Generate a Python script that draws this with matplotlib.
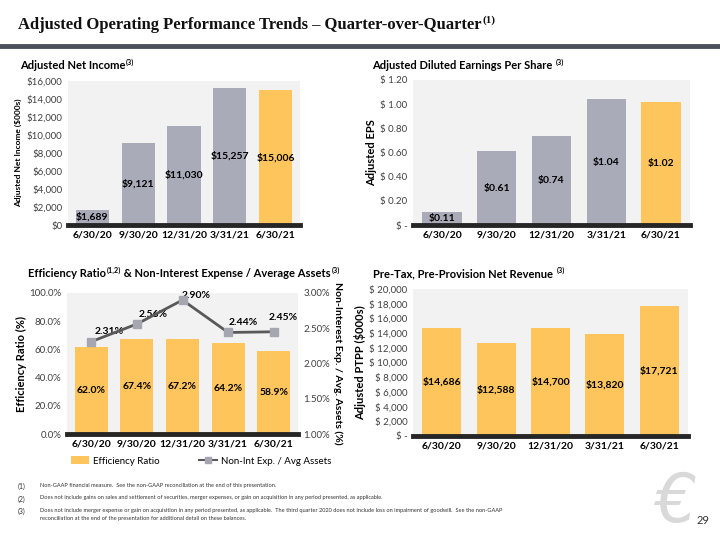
import matplotlib
matplotlib.use("Agg")
import matplotlib.pyplot as plt
from matplotlib.patches import Patch
from matplotlib.lines import Line2D
from matplotlib.text import Annotation
import numpy as np

# data
quarters = ["6/30/20", "9/30/20", "12/31/20", "3/31/21", "6/30/21"]
net_income = [1689, 9121, 11030, 15257, 15006]
eps = [0.11, 0.61, 0.74, 1.04, 1.02]
eff_ratio = [62.0, 67.4, 67.2, 64.2, 58.9]
nonint_exp = [2.31, 2.56, 2.90, 2.44, 2.45]
ptpp = [14686, 12588, 14700, 13820, 17721]

footnotes = [
    ("(1)", "Non-GAAP financial measure.  See the non-GAAP reconciliation at the end of this presentation."),
    ("(2)", "Does not include gains on sales and settlement of securities, merger expenses, or gain on acquisition in any period presented, as applicable."),
    ("(3)", "Does not include merger expense or gain on acquisition in any period presented, as applicable.  The third quarter 2020 does not include loss on impairment of goodwill.  See the non-GAAP\nreconciliation at the end of the presentation for additional detail on these balances."),
]

GRAY = "#a9abb9"
GOLD = "#fdc55b"
BG = "#f2f2f2"
SANS = ["Lato", "DejaVu Sans"]
W, H = 720, 540

plt.rcParams['font.family'] = SANS

fig = plt.figure(figsize=(7.2, 5.4), dpi=100)


def px_axes(x0, y0, x1, y1):
    return fig.add_axes([x0 / W, 1 - y1 / H, (x1 - x0) / W, (y1 - y0) / H])


def rich_title(x, y, parts, size, **kw):
    # parts: list of (text, is_superscript); each piece follows the previous one
    first = fig.text(x / W, 1 - y / H, parts[0][0], fontsize=size, va="bottom", **kw)
    prev, prev_sup = first, False
    for s, sup in parts[1:]:
        if sup:
            a = Annotation(s, xy=(1, 0.5), xycoords=prev, xytext=(0.5, 0), textcoords="offset points",
                           ha="left", va="bottom", fontsize=size * 0.65, annotation_clip=False, **kw)
        else:
            dy = -size * 0.5 if prev_sup else 0
            a = Annotation(s, xy=(1, 0), xycoords=prev, xytext=(0, dy), textcoords="offset points",
                           ha="left", va="bottom", fontsize=size, annotation_clip=False, **kw)
        fig.add_artist(a)
        prev, prev_sup = a, sup
    return first


def style_bar_axes(ax, ylim, yticks, yfmt):
    x = np.arange(len(quarters))
    ax.set_facecolor(BG)
    for s in ax.spines.values():
        s.set_visible(False)
    ax.set_xlim(-0.53, 4.53)
    ax.set_ylim(*ylim)
    ax.set_xticks(x)
    ax.set_xticklabels(quarters, fontsize=7.5, fontweight="bold")
    ax.set_yticks(yticks)
    ax.set_yticklabels([yfmt(v) for v in yticks], fontsize=7, color="#404040")
    ax.tick_params(length=0, pad=4)
    ax.axhline(ylim[0], color="#262626", lw=3.5, zorder=5, clip_on=False)
    return x


# title
rich_title(18, 33, [("Adjusted Operating Performance Trends \u2013 Quarter-over-Quarter", False), ("(1)", True)],
           12, family=["Liberation Serif", "DejaVu Serif"], fontweight="bold", color="#111111")
fig.add_artist(Line2D([0, 1], [1 - 46 / H, 1 - 46 / H], color="#4a4f5a", lw=3.5))

# panel 1: adjusted net income
ax1 = px_axes(68, 81, 300, 225)
x = style_bar_axes(ax1, (0, 16000), np.arange(0, 16001, 2000), lambda v: "${:,.0f}".format(v))
cols = [GRAY] * 4 + [GOLD]
ax1.bar(x, net_income, width=0.72, color=cols, zorder=3)
for xi, v in zip(x, net_income):
    ax1.text(xi, v / 2, "${:,}".format(v), ha="center", va="center", fontsize=7.5, fontweight="bold", zorder=4)
ax1.set_ylabel("Adjusted Net Income ($000s)", fontsize=6, fontweight="bold", labelpad=3)
rich_title(20, 71, [("Adjusted Net Income", False), ("(3)", True)], 8, fontweight="bold")

# panel 2: EPS
ax2 = px_axes(413, 80, 690, 225)
x = style_bar_axes(ax2, (0, 1.2), np.arange(0, 1.21, 0.2),
                   lambda v: "$ -" if v == 0 else "$ {:.2f}".format(v))
ax2.bar(x, eps, width=0.72, color=cols, zorder=3)
for xi, v in zip(x, eps):
    ax2.text(xi, v / 2, "${:.2f}".format(v), ha="center", va="center", fontsize=7.5, fontweight="bold", zorder=4)
ax2.set_ylabel("Adjusted EPS", fontsize=8, fontweight="bold", labelpad=2)
rich_title(372, 71, [("Adjusted Diluted Earnings Per Share ", False), ("(3)", True)], 8, fontweight="bold")

# panel 3: efficiency ratio
ax3 = px_axes(67, 293, 298, 434)
x = style_bar_axes(ax3, (0, 100), np.arange(0, 101, 20), lambda v: "{:.1f}%".format(v))
ax3.bar(x, eff_ratio, width=0.72, color=GOLD, zorder=3)
for xi, v in zip(x, eff_ratio):
    ax3.text(xi, v / 2, "{:.1f}%".format(v), ha="center", va="center", fontsize=7.5, fontweight="bold", zorder=4)
ax3.set_ylabel("Efficiency Ratio (%)", fontsize=8, fontweight="bold", labelpad=2)
ax3b = ax3.twinx()
for s in ax3b.spines.values():
    s.set_visible(False)
ax3b.set_ylim(1.0, 3.0)
rt = np.arange(1.0, 3.01, 0.5)
ax3b.set_yticks(rt)
ax3b.set_yticklabels(["{:.2f}%".format(v) for v in rt], fontsize=7, color="#404040")
ax3b.tick_params(length=0, pad=4)
ax3b.plot(x, nonint_exp, color="#595959", lw=2, marker="s", markersize=6,
          markerfacecolor="#a6a6b0", markeredgecolor="#a6a6b0", zorder=6)
label_off = [(13, 7), (11.5, 7), (10, 3.5), (11, 7), (7, 10)]
for xi, v, off in zip(x, nonint_exp, label_off):
    ax3b.annotate("{:.2f}%".format(v), (xi, v), xytext=off, textcoords="offset points",
                  ha="center", va="center", fontsize=7.5, fontweight="bold")
ax3b.set_ylabel("Non-Interest Exp. / Avg. Assets (%)", fontsize=7.5, fontweight="bold",
                rotation=-90, labelpad=9)
rich_title(28, 279, [("Efficiency Ratio", False), ("(1,2)", True),
                     (" & Non-Interest Expense / Average Assets", False), ("(3)", True)],
           8, fontweight="bold")
handles = [Patch(facecolor=GOLD, edgecolor="none"),
           Line2D([], [], color="#595959", lw=1.5, marker="s", markersize=4,
                  markerfacecolor="#a6a6b0", markeredgecolor="#a6a6b0")]
fig.legend(handles, ["Efficiency Ratio", "Non-Int Exp. / Avg Assets"], ncol=2, frameon=False,
           loc="center left", bbox_to_anchor=(62 / W, 1 - 461 / H), fontsize=7,
           handlelength=1.9, handleheight=0.8, columnspacing=4, handletextpad=0.4)

# panel 4: PTPP
ax4 = px_axes(413, 289, 688, 436)
x = style_bar_axes(ax4, (0, 20000), np.arange(0, 20001, 2000),
                   lambda v: "$ -" if v == 0 else "$ {:,.0f}".format(v))
ax4.bar(x, ptpp, width=0.72, color=GOLD, zorder=3)
for xi, v in zip(x, ptpp):
    ax4.text(xi, v / 2, "${:,}".format(v), ha="center", va="center", fontsize=7.5, fontweight="bold", zorder=4)
ax4.set_ylabel("Adjusted PTPP ($000s)", fontsize=8, fontweight="bold", labelpad=2)
rich_title(373, 279, [("Pre-Tax, Pre-Provision Net Revenue ", False), ("(3)", True)], 8, fontweight="bold")

# footnotes
y = 483
for num, txt in footnotes:
    fig.text(18 / W, 1 - y / H, num, fontsize=5, va="top", color="#333333")
    fig.text(40 / W, 1 - y / H, txt, fontsize=4.1, va="top", color="#333333", linespacing=1.8)
    y += 12.5

fig.text(710 / W, 1 - 521 / H, "29", fontsize=8, ha="right", va="center", color="#333333")
fig.text(675 / W, 1 - 503 / H, "\u20ac", fontsize=48, ha="center", va="center",
         color="#d9d9d9", style="italic", family="DejaVu Sans", zorder=0)

fig.savefig("out.png", dpi=100)
